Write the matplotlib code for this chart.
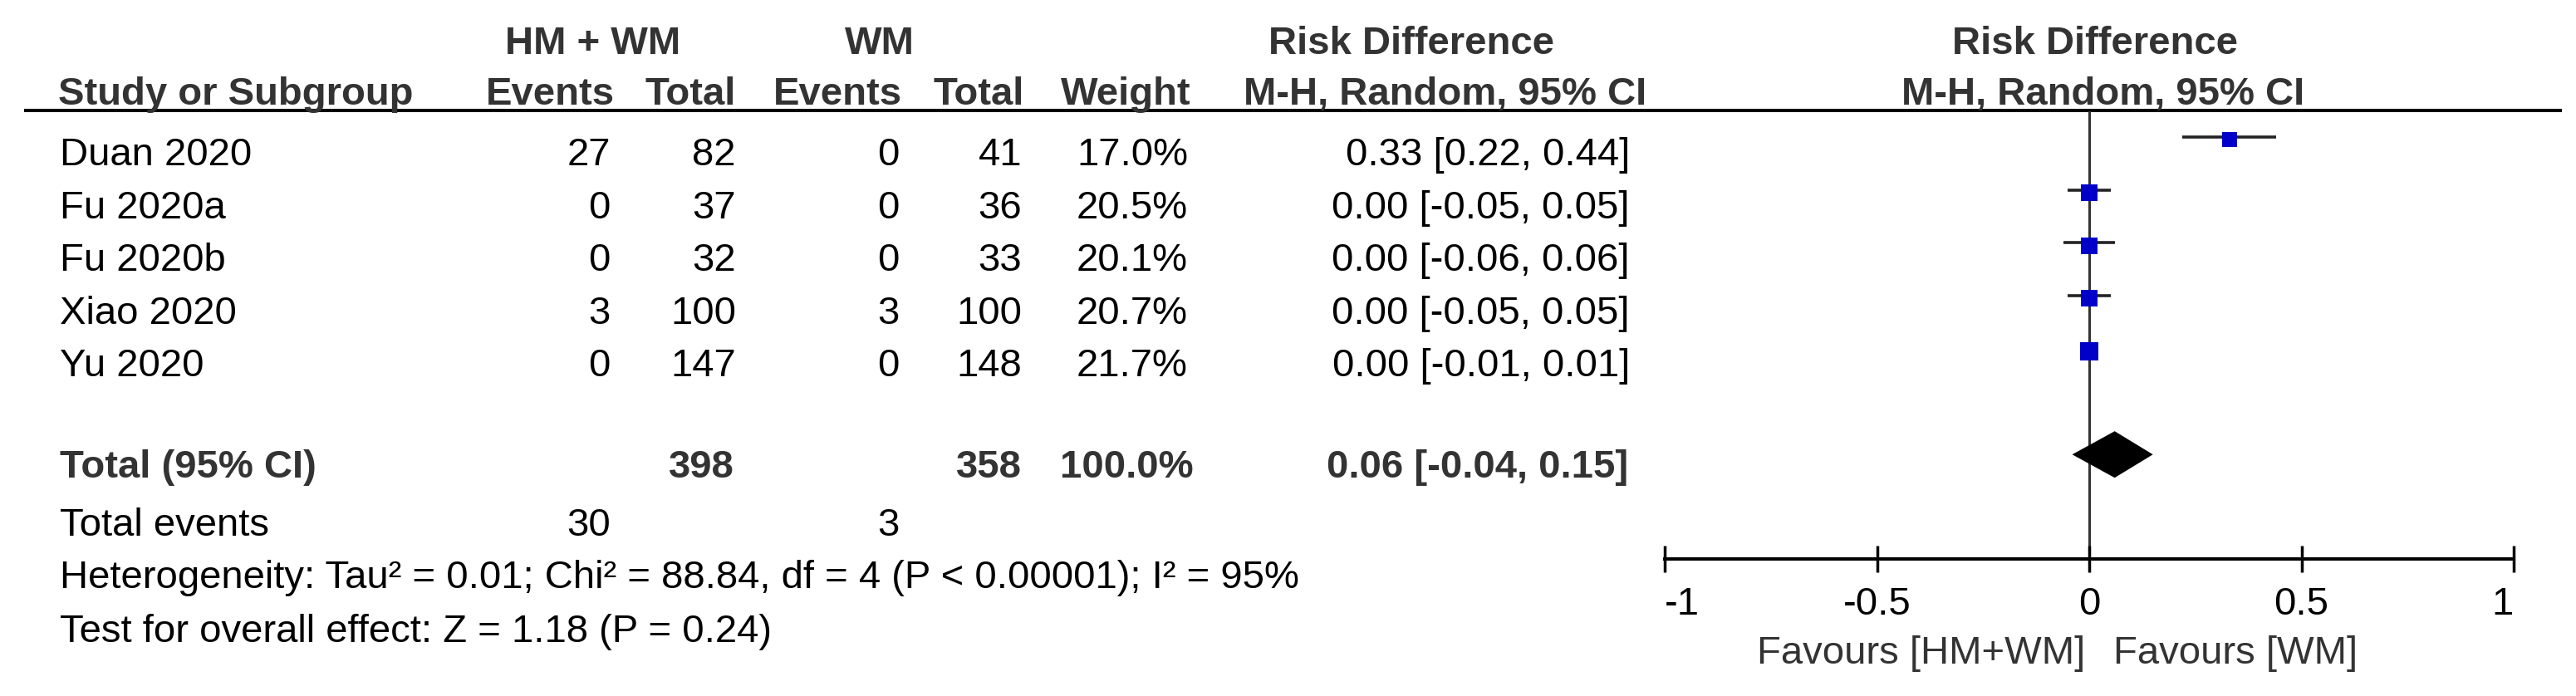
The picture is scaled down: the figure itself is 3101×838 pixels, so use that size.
import matplotlib
matplotlib.use("Agg")
import matplotlib.pyplot as plt
import numpy as np

plt.rcParams['font.family'] = ['Liberation Sans', 'DejaVu Sans']
plt.rcParams['axes.unicode_minus'] = False

# ---------------- data ----------------
studies = ["Duan 2020", "Fu 2020a", "Fu 2020b", "Xiao 2020", "Yu 2020"]
hm_events = [27, 0, 0, 3, 0]
hm_total = [82, 37, 32, 100, 147]
wm_events = [0, 0, 0, 3, 0]
wm_total = [41, 36, 33, 100, 148]
weights = [17.0, 20.5, 20.1, 20.7, 21.7]
rd = [0.33, 0.00, 0.00, 0.00, 0.00]
rd_lo = [0.22, -0.05, -0.06, -0.05, -0.01]
rd_hi = [0.44, 0.05, 0.06, 0.05, 0.01]

total_hm = 398
total_wm = 358
total_weight = 100.0
total_rd = 0.06
total_lo = -0.04
total_hi = 0.15
events_hm = 30
events_wm = 3

heterogeneity = "Heterogeneity: Tau\u00b2 = 0.01; Chi\u00b2 = 88.84, df = 4 (P < 0.00001); I\u00b2 = 95%"
overall = "Test for overall effect: Z = 1.18 (P = 0.24)"

xticks = [-1, -0.5, 0, 0.5, 1]
xtick_labels = ["-1", "-0.5", "0", "0.5", "1"]
favours_left = "Favours [HM+WM]"
favours_right = "Favours [WM]"

# ---------------- layout ----------------
W, H = 3101, 838
FS = 34
HDR = '#333333'
BLUE = '#0000C8'

fig = plt.figure(figsize=(W / 100, H / 100), dpi=100)

tax = fig.add_axes([0, 0, 1, 1])
tax.set_xlim(0, W)
tax.set_ylim(H, 0)
tax.axis('off')

# forest axes geometry (pixels)
AX_L, AX_R, AX_B = 2004, 3026, 673
ROW0, STEP = 165, 63.7
ax = fig.add_axes([AX_L / W, (H - AX_B) / H, (AX_R - AX_L) / W, AX_B / H])
ax.set_facecolor('none')
ax.set_xlim(-1, 1)
ax.set_ylim((AX_B - ROW0) / STEP, -ROW0 / STEP)
for s in ['top', 'left', 'right']:
    ax.spines[s].set_visible(False)
ax.spines['bottom'].set_linewidth(2.9)
ax.spines['bottom'].set_color('black')
ax.set_yticks([])
ax.set_xticks(xticks)
ax.set_xticklabels(xtick_labels)
ax.tick_params(axis='x', direction='inout', length=23, width=2.5, pad=12,
               labelsize=FS, colors='black')
labs = ax.get_xticklabels()
labs[0].set_horizontalalignment('left')
labs[-1].set_horizontalalignment('right')

# zero line
ax.axvline(0, ymin=0, ymax=(AX_B - 135) / AX_B, color='#333333', lw=2.2, zorder=1)

# study CIs and squares
for i in range(len(studies)):
    ax.plot([rd_lo[i], rd_hi[i]], [i, i], color='#222222', lw=2.6,
            solid_capstyle='butt', zorder=2)
    side_px = 4.6 * np.sqrt(weights[i])
    ax.plot([rd[i]], [i + 0.05], marker='s', ms=side_px * 0.72, color=BLUE,
            mew=0, linestyle='none', zorder=3)

# pooled diamond
TOT_ROW = 6
dh = 0.44
ax.fill([total_lo, total_rd, total_hi, total_rd],
        [TOT_ROW, TOT_ROW - dh, TOT_ROW, TOT_ROW + dh], color='black', zorder=3, lw=0)

# header line
tax.plot([29, 3084], [133, 133], color='black', lw=2.9, solid_capstyle='butt')

# ---------------- text table ----------------
def t(x, y, s, ha='right', bold=False, color='black'):
    tax.text(x, y, s, ha=ha, va='baseline', fontsize=FS,
             fontweight='bold' if bold else 'normal', color=color)

# headers
H1, H2 = 65, 126
t(714, H1, "HM + WM", ha='center', bold=True, color=HDR)
t(1059, H1, "WM", ha='center', bold=True, color=HDR)
t(1699, H1, "Risk Difference", ha='center', bold=True, color=HDR)
t(2522, H1, "Risk Difference", ha='center', bold=True, color=HDR)
t(70, H2, "Study or Subgroup", ha='left', bold=True, color=HDR)
t(740, H2, "Events", bold=True, color=HDR)
t(886, H2, "Total", bold=True, color=HDR)
t(1086, H2, "Events", bold=True, color=HDR)
t(1233, H2, "Total", bold=True, color=HDR)
t(1434, H2, "Weight", bold=True, color=HDR)
t(1740, H2, "M-H, Random, 95% CI", ha='center', bold=True, color=HDR)
t(2532, H2, "M-H, Random, 95% CI", ha='center', bold=True, color=HDR)

# study rows
for i in range(len(studies)):
    yb = 199 + 63.5 * i
    t(72, yb, studies[i], ha='left')
    t(735, yb, f"{hm_events[i]}")
    t(886, yb, f"{hm_total[i]}")
    t(1083, yb, f"{wm_events[i]}")
    t(1230, yb, f"{wm_total[i]}")
    t(1430, yb, f"{weights[i]:.1f}%")
    t(1962, yb, f"{rd[i]:.2f} [{rd_lo[i]:.2f}, {rd_hi[i]:.2f}]")

# total row
YT = 575
t(72, YT, "Total (95% CI)", ha='left', bold=True, color=HDR)
t(884, YT, f"{total_hm}", bold=True, color=HDR)
t(1230, YT, f"{total_wm}", bold=True, color=HDR)
t(1437, YT, f"{total_weight:.1f}%", bold=True, color=HDR)
t(1960, YT, f"{total_rd:.2f} [{total_lo:.2f}, {total_hi:.2f}]", bold=True, color=HDR)

YE = 645
t(72, YE, "Total events", ha='left')
t(735, YE, f"{events_hm}")
t(1083, YE, f"{events_wm}")

t(72, 708, heterogeneity, ha='left')
t(72, 773, overall, ha='left')

# favours labels
t(2510, 799, favours_left, ha='right', color=HDR)
t(2544, 799, favours_right, ha='left', color=HDR)

fig.savefig('out.png', dpi=100)
